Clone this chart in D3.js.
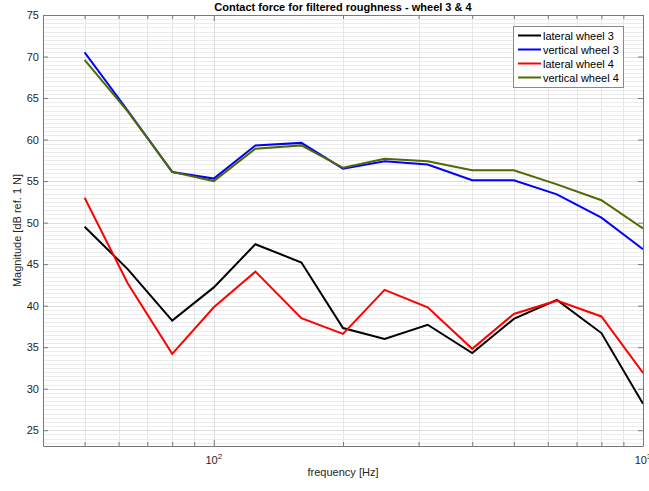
<!DOCTYPE html>
<html>
<head>
<meta charset="utf-8">
<script src="https://cdn.jsdelivr.net/npm/d3@7"></script>
<style>
  html, body { margin: 0; padding: 0; background: #fff; }
  svg { display: block; font-family: "Liberation Sans", Arial, sans-serif; }
</style>
</head>
<body>
<svg id="chart" width="649" height="491"></svg>
<script>
const freqs = [50, 63, 80, 100, 125, 160, 200, 250, 315, 400, 500, 630, 800, 1000];
const lateral3 = [49.5, 44.4, 38.2, 42.2, 47.4, 45.2, 37.3, 36.0, 37.7, 34.3, 38.4, 40.7, 36.7, 28.2];
const vertical3 = [70.5, 63.5, 56.1, 55.3, 59.3, 59.6, 56.5, 57.4, 57.0, 55.1, 55.1, 53.4, 50.6, 46.8];
const lateral4 = [53.0, 42.7, 34.2, 39.8, 44.1, 38.5, 36.6, 41.9, 39.8, 34.8, 39.0, 40.6, 38.7, 31.9];
const vertical4 = [69.6, 63.4, 56.1, 55.0, 58.9, 59.3, 56.6, 57.7, 57.4, 56.3, 56.3, 54.6, 52.7, 49.3];
const seriesNames = ["lateral wheel 3", "vertical wheel 3", "lateral wheel 4", "vertical wheel 4"];
const seriesColors = ["#000000", "#0000ff", "#ff0000", "#4f6a00"];
const yTicks = [25, 30, 35, 40, 45, 50, 55, 60, 65, 70, 75];
const xMajorTicks = [100, 1000];
const xMinorTicks = [50, 60, 70, 80, 90, 200, 300, 400, 500, 600, 700, 800, 900];
const titleText = "Contact force for filtered roughness - wheel 3 & 4";
const xLabel = "frequency [Hz]";
const yLabel = "Magnitude [dB ref. 1 N]";

(function () {
const series = [lateral3, vertical3, lateral4, vertical4];

const L = 43, R = 643, T = 15, B = 446;
const svg = d3.select("#chart");

const x = d3.scaleLog().domain([40, 1000]).range([L, R]);
const y = d3.scaleLinear().domain([23.1, 75]).range([B, T]);

// grid
const grid = svg.append("g");
const yMinor = d3.range(23.5, 75.01, 0.5).filter(v => Math.abs(v % 5) > 1e-6);
grid.selectAll("line.ymin").data(yMinor).enter().append("line")
  .attr("x1", L).attr("x2", R)
  .attr("y1", d => Math.round(y(d)) + 0.5).attr("y2", d => Math.round(y(d)) + 0.5)
  .attr("stroke", "#ececec").attr("stroke-width", 1);
grid.selectAll("line.xmin").data(xMinorTicks).enter().append("line")
  .attr("y1", T).attr("y2", B)
  .attr("x1", d => Math.round(x(d)) + 0.5).attr("x2", d => Math.round(x(d)) + 0.5)
  .attr("stroke", "#e6e6e6").attr("stroke-width", 1);
grid.selectAll("line.ymaj").data(yTicks).enter().append("line")
  .attr("x1", L).attr("x2", R)
  .attr("y1", d => Math.round(y(d)) + 0.5).attr("y2", d => Math.round(y(d)) + 0.5)
  .attr("stroke", "#dedede").attr("stroke-width", 1);
grid.selectAll("line.xmaj").data(xMajorTicks).enter().append("line")
  .attr("y1", T).attr("y2", B)
  .attr("x1", d => Math.round(x(d)) + 0.5).attr("x2", d => Math.round(x(d)) + 0.5)
  .attr("stroke", "#dedede").attr("stroke-width", 1);

// lines
const line = d3.line().x((d, i) => x(freqs[i])).y(d => y(d));
svg.append("clipPath").attr("id", "clip").append("rect")
  .attr("x", L).attr("y", T).attr("width", R - L).attr("height", B - T);
const lines = svg.append("g").attr("clip-path", "url(#clip)");
series.forEach((s, k) => {
  lines.append("path").datum(s).attr("d", line)
    .attr("fill", "none").attr("stroke", seriesColors[k])
    .attr("stroke-width", 2).attr("stroke-linejoin", "miter");
});

// axes (MATLAB style, ticks inward, box)
const axColor = "#262626";
const axisG = svg.append("g");
const allX = xMajorTicks.concat(xMinorTicks);
const gBottom = axisG.append("g").attr("transform", `translate(0,${B})`)
  .call(d3.axisBottom(x).tickValues(allX).tickSizeInner(-4).tickSizeOuter(0).tickFormat(""));
gBottom.selectAll(".tick line").attr("y2", d => xMajorTicks.includes(d) ? -6 : -4);
const gTop = axisG.append("g").attr("transform", `translate(0,${T})`)
  .call(d3.axisTop(x).tickValues(allX).tickSizeInner(-4).tickSizeOuter(0).tickFormat(""));
gTop.selectAll(".tick line").attr("y2", d => xMajorTicks.includes(d) ? 6 : 4);
const gLeft = axisG.append("g").attr("transform", `translate(${L},0)`)
  .call(d3.axisLeft(y).tickValues(yTicks).tickSizeInner(-5).tickSizeOuter(0).tickPadding(4));
const gRight = axisG.append("g").attr("transform", `translate(${R},0)`)
  .call(d3.axisRight(y).tickValues(yTicks).tickSizeInner(-5).tickSizeOuter(0).tickFormat(""));
[gBottom, gTop, gLeft, gRight].forEach(g => {
  g.select(".domain").attr("stroke", "#7a7a7a").attr("stroke-width", 1);
  g.selectAll(".tick line").attr("stroke", "#7a7a7a");
});
gLeft.selectAll(".tick text").attr("fill", axColor).style("font-size", "11px")
  .style("font-family", "'Liberation Sans', Arial, sans-serif");

// x major labels with superscript
xMajorTicks.forEach(v => {
  const t = svg.append("text").attr("x", x(v)).attr("y", B + 18)
    .attr("text-anchor", "middle").attr("fill", axColor).style("font-size", "11px");
  t.append("tspan").text("10");
  t.append("tspan").attr("dy", -5).style("font-size", "8px").text(String(Math.round(Math.log10(v))));
});

// labels
svg.append("text").attr("x", (L + R) / 2).attr("y", 11).attr("text-anchor", "middle")
  .attr("fill", "#000").style("font-size", "11px").style("font-weight", "bold").text(titleText);
svg.append("text").attr("x", (L + R) / 2).attr("y", 476).attr("text-anchor", "middle")
  .attr("fill", axColor).style("font-size", "11px").text(xLabel);
svg.append("text").attr("transform", `translate(21,${(T + B) / 2}) rotate(-90)`)
  .attr("text-anchor", "middle").attr("fill", axColor).style("font-size", "11px").text(yLabel);

// legend
const lg = svg.append("g").attr("transform", "translate(513,26)");
lg.append("rect").attr("x", 0.5).attr("y", 0.5).attr("width", 110).attr("height", 61)
  .attr("fill", "#fff").attr("stroke", "#8a8a8a").attr("stroke-width", 1);
seriesNames.forEach((name, k) => {
  const yy = 9.5 + k * 14;
  lg.append("line").attr("x1", 5).attr("x2", 28).attr("y1", yy).attr("y2", yy)
    .attr("stroke", seriesColors[k]).attr("stroke-width", 2);
  lg.append("text").attr("x", 30).attr("y", yy + 4).attr("fill", "#000")
    .style("font-size", "11px").text(name);
});
})();
</script>
</body>
</html>
